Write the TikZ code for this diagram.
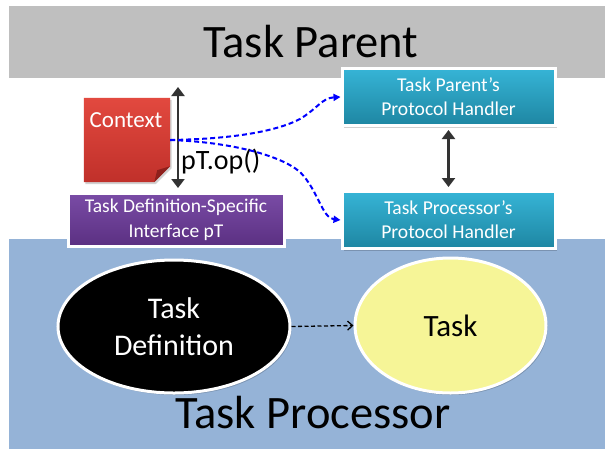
\documentclass[tikz,border=0pt]{standalone}
\usepackage{fontspec}
\setmainfont{Carlito}
\usetikzlibrary{arrows.meta,shapes.geometric,calc}
\definecolor{bandgray}{HTML}{BFBFBF}
\definecolor{bandblue}{HTML}{95B3D7}
\definecolor{tealtop}{HTML}{36B4D6}
\definecolor{tealbot}{HTML}{1E86A2}
\definecolor{purptop}{HTML}{7A4CA6}
\definecolor{purpbot}{HTML}{5B3082}
\definecolor{redtop}{HTML}{E2493F}
\definecolor{redbot}{HTML}{C0302A}
\definecolor{redfold}{HTML}{8E201C}
\definecolor{yellowfill}{HTML}{F6F597}
\definecolor{arrowgray}{HTML}{333333}
\tikzset{
  band/.style={draw=white, line width=1pt, anchor=north west, inner sep=0pt},
  bandtitle/.style={font=\fontsize{46.5}{52}\selectfont, text=black},
  handler/.style={rectangle, draw=white, line width=3pt, top color=tealtop, bottom color=tealbot,
    text=white, align=center, font=\fontsize{19.6}{24}\selectfont, inner sep=0pt,
    minimum width=213pt, minimum height=57pt},
  iface/.style={rectangle, draw=white, line width=3pt, top color=purptop, bottom color=purpbot,
    text=white, align=center, font=\fontsize{19.5}{25}\selectfont, inner sep=0pt,
    minimum width=216pt, minimum height=53pt},
  blob/.style={ellipse, draw=white, line width=3pt, inner sep=0pt, align=center},
  dbl/.style={{Triangle[width=13pt,length=9pt]}-{Triangle[width=13pt,length=9pt]}, draw=arrowgray, line width=2.6pt},
  bluedash/.style={-{Triangle[width=7pt,length=7pt]}, draw=blue, line width=2pt, dash pattern=on 5pt off 3pt},
  blackdash/.style={-{Straight Barb[width=9pt,length=5pt]}, draw=black, line width=1.3pt, dash pattern=on 4pt off 2.5pt},
  shadowed/.style={preaction={fill=black, opacity=0.18, transform canvas={xshift=1.5pt,yshift=-2pt}}}
}
\begin{document}
\begin{tikzpicture}[x=1pt,y=-1pt]
\useasboundingbox (0,0) rectangle (605,448);
\fill[white] (0,0) rectangle (605,448);
% bands
\node[band, fill=bandgray, minimum width=600pt, minimum height=73pt] (parent) at (8,4.5) {};
\node[bandtitle] (parenttitle) at (311,42) {Task Parent};
\node[band, fill=bandblue, minimum width=600pt, minimum height=215pt] (proc) at (8,238) {};
\draw[white, opacity=0.6, line width=2pt] (proc.north west) -- ([yshift=-220pt]proc.north west);
\node[bandtitle] (proctitle) at (313,413) {Task Processor};
% context note
\node[minimum width=86pt, minimum height=84pt, inner sep=0pt] (ctx) at (127,140) {};
\path[shadowed, top color=redtop, bottom color=redbot]
  (ctx.north west) -- (ctx.north east) -- ([yshift=16pt]ctx.south east)
  -- ([xshift=-16pt]ctx.south east) -- (ctx.south west) -- cycle;
\fill[redfold] ([yshift=16pt]ctx.south east) -- ([xshift=-16pt]ctx.south east)
  -- ([xshift=-13pt,yshift=12pt]ctx.south east) -- cycle;
\node[text=white, font=\fontsize{23}{26}\selectfont] (ctxtext) at (126,120) {Context};
% vertical arrow by context
\coordinate (ctop) at (178,87);
\coordinate (cbot) at (178,188);
\draw[dbl] (ctop) -- (cbot);
\node[font=\fontsize{28}{30}\selectfont, anchor=west, inner sep=1pt] (op) at (180,162) {pT.op()};
% interface
\node[iface, shadowed] (pt) at (176,219.5) {Task Definition-Specific\\Interface pT};
% handlers
\node[handler, shadowed] (pph) at (448.5,97) {Task Parent’s\\Protocol Handler};
\node[handler, shadowed] (tph) at (448.5,220) {Task Processor’s\\Protocol Handler};
\draw[dbl] ([yshift=-3pt]pph.south) -- ([yshift=3pt]tph.north);
% blue dashed calls
\draw[bluedash] (ctx.east) .. controls (230,139) and (275,132) .. (300,119)
  .. controls (318,108) and (322,98) .. (pph.west);
\draw[bluedash] (ctx.east) .. controls (230,142) and (280,155) .. (300,172)
  .. controls (318,190) and (322,218) .. (tph.west);
% ellipses
\node[blob, shadowed, fill=black, text=white, minimum width=232pt, minimum height=133pt,
  font=\fontsize{30}{37}\selectfont] (td) at (174,326.5) {Task\\Definition};
\node[blob, shadowed, fill=yellowfill, text=black, minimum width=191pt, minimum height=135pt,
  font=\fontsize{31}{34}\selectfont] (task) at (450.5,325.5) {Task};
\draw[blackdash] (td.east) -- (task.west);
\end{tikzpicture}
\end{document}
